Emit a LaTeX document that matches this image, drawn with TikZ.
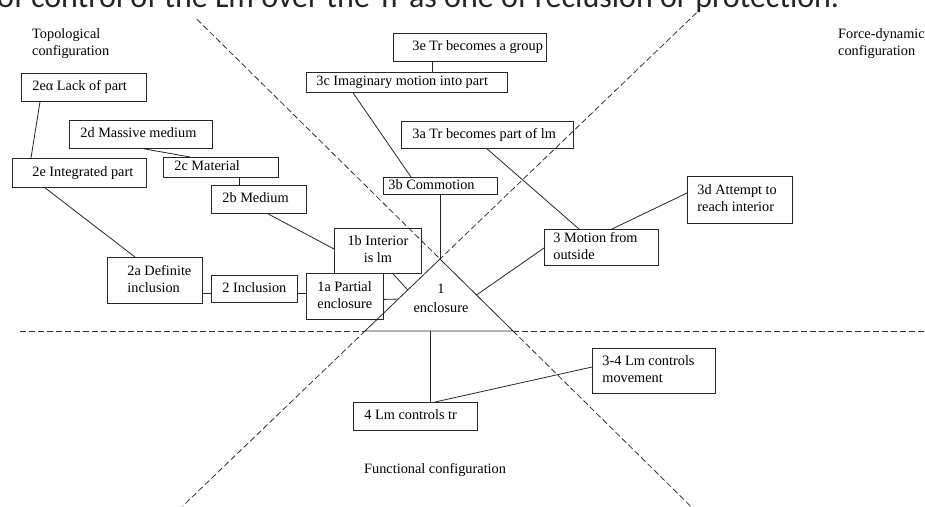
\documentclass[tikz,border=0pt]{standalone}
\usepackage{fontspec}
\setmainfont{Liberation Serif}
\newfontfamily\topfont{Carlito}
\usetikzlibrary{calc}
\newcommand{\btl}[3]{\makebox[#1][l]{\hspace*{#2}\begin{tabular}{@{}l@{}}#3\end{tabular}}}
\newcommand{\btc}[2]{\makebox[#1][c]{\begin{tabular}{@{}c@{}}#2\end{tabular}}}
\begin{document}
\begin{tikzpicture}[x=1pt,y=-1pt,
  every node/.style={font=\fontsize{14.3}{17}\selectfont},
  box/.style={draw=black!85, line width=0.8pt, rectangle, inner sep=0pt, anchor=north west},
  conn/.style={draw=black!85, line width=0.8pt},
  dashline/.style={draw=black!80, line width=0.8pt, dash pattern=on 6pt off 3pt},
  lbl/.style={inner sep=0pt, anchor=base west}]
\useasboundingbox (0,0) rectangle (925,506);
% cut-off heading
\begin{scope}
\clip (0,0) rectangle (925,506);
\node[inner sep=0pt, anchor=base west, font=\topfont\fontsize{32}{32}\selectfont, text=black!85] (head) at (-3,7) {of control of the Lm over the Tr as one of reclusion or protection.};
\end{scope}
% region labels
\node[lbl] (topo) at (32,38) {\begin{tabular}[t]{@{}l@{}}Topological\\configuration\end{tabular}};
\node[lbl] (force) at (838,38) {\begin{tabular}[t]{@{}l@{}}Force-dynamic\\configuration\end{tabular}};
\node[lbl] (func) at (364,473) {Functional configuration};
% triangle
\coordinate (A) at (440,259);
\coordinate (BL) at (365,331);
\coordinate (BR) at (513,331);
\coordinate (HL) at (20,331);
\coordinate (HR) at (925,331);
\draw[dashline] ($(A)!-3.33!(BR)$) -- (A);
\draw[dashline] (BR) -- ($(A)!3.43!(BR)$);
\draw[dashline] ($(A)!-3.42!(BL)$) -- (A);
\draw[dashline] (BL) -- ($(A)!3.43!(BL)$);
\draw[dashline] (HL) -- (BL);
\draw[dashline] (BR) -- (HR);
\draw[conn] (A) -- (BL) -- (BR) -- cycle;
\node (enc) at (441,300) {\begin{tabular}{@{}c@{}}1\\[2pt]enclosure\end{tabular}};
% boxes
\node[box, minimum height=28pt] (ea)  at (21,73)  {\btl{125pt}{11pt}{2eα Lack of part}};
\node[box, minimum height=28pt] (md)  at (69,120) {\btl{143pt}{11pt}{2d Massive medium}};
\node[box, minimum height=29pt] (ie)  at (12,158) {\btl{134pt}{20pt}{2e Integrated part}};
\node[box, minimum height=20pt] (mat) at (163,157) {\btl{115pt}{11pt}{2c Material}};
\node[box, minimum height=28pt] (med) at (211,185) {\btl{95pt}{11pt}{2b Medium}};
\node[box, minimum height=28pt] (grp) at (393,33) {\btl{153pt}{19pt}{3e Tr becomes a group}};
\node[box, minimum height=20pt] (img) at (306,72) {\raisebox{-4pt}{\btl{201pt}{10pt}{3c Imaginary motion into part}}};
\node[box, minimum height=27pt] (tpl) at (401,121) {\btl{172pt}{11pt}{3a Tr becomes part of lm}};
\node[box, minimum height=17pt] (com) at (383,177) {\raisebox{-2pt}{\btl{114pt}{5pt}{3b Commotion}}};
\node[box, minimum height=45pt] (int) at (334,228) {\btc{87pt}{1b Interior\\is lm}};
\node[box, minimum height=46pt] (par) at (306,273) {\btl{77pt}{11pt}{1a Partial\\enclosure}};
\node[box, minimum height=46pt] (dfi) at (107,257) {\btl{95pt}{20pt}{2a Definite\\inclusion}};
\node[box, minimum height=27pt] (inc) at (211,275) {\btl{86pt}{11pt}{2 Inclusion}};
\node[box, minimum height=36pt] (mot) at (544,229) {\btl{114pt}{9pt}{3 Motion from\\outside}};
\node[box, minimum height=47pt] (att) at (687,176) {\raisebox{4pt}{\btl{105pt}{10pt}{3d Attempt to\\reach interior}}};
\node[box, minimum height=45pt] (ctm) at (592,348) {\btl{123pt}{10pt}{3-4 Lm controls\\movement}};
\node[box, minimum height=28pt] (ctr) at (353,402) {\btl{124pt}{11pt}{4 Lm controls tr}};
% connectors
\draw[conn] ([xshift=19pt]ea.south west) -- ([xshift=19pt]ie.north west);
\draw[conn] ([xshift=75pt]md.south west) -- ([xshift=27pt]mat.north west);
\draw[conn] ([xshift=76pt]mat.south west) -- ([xshift=28pt]med.north west);
\draw[conn] ([xshift=33pt]ie.south west) -- ([xshift=28pt]dfi.north west);
\draw[conn] ([xshift=57pt]med.south west) -- ([yshift=-21pt]int.north west);
\draw[conn] ([yshift=-4.5pt]inc.west) -- ([yshift=-4.5pt]inc.west -| dfi.east);
\draw[conn] ([yshift=-4.5pt]inc.east) -- ([yshift=-4.5pt]inc.east -| par.west);
\draw[conn] ([yshift=-3pt]par.east) -- ($(A)!0.556!(BL)$);
\draw[conn] ([xshift=59pt]int.south west) -- ($(A)!0.43!(BL)$);
\draw[conn] ([xshift=39pt]grp.south west) -- ([xshift=39pt]grp.south west |- img.north);
\draw[conn] ([xshift=47pt]img.south west) -- ([xshift=28pt]com.north west);
\draw[conn] (com.south -| A) -- (A);
\draw[conn] ([xshift=86pt]tpl.south west) -- ([xshift=35pt]mot.north west);
\draw[conn] ([yshift=-17pt]att.north west) -- ([xshift=68pt]mot.north west);
\draw[conn] ([yshift=-19pt]mot.north west) -- ($(A)!0.5!(BR)$);
\coordinate (T4) at ($(BL)!0.44!(BR)$);
\draw[conn] (T4) -- (T4 |- ctr.north);
\draw[conn] ([yshift=-19pt]ctm.north west) -- ([xshift=82pt]ctr.north west);
\end{tikzpicture}
\end{document}
